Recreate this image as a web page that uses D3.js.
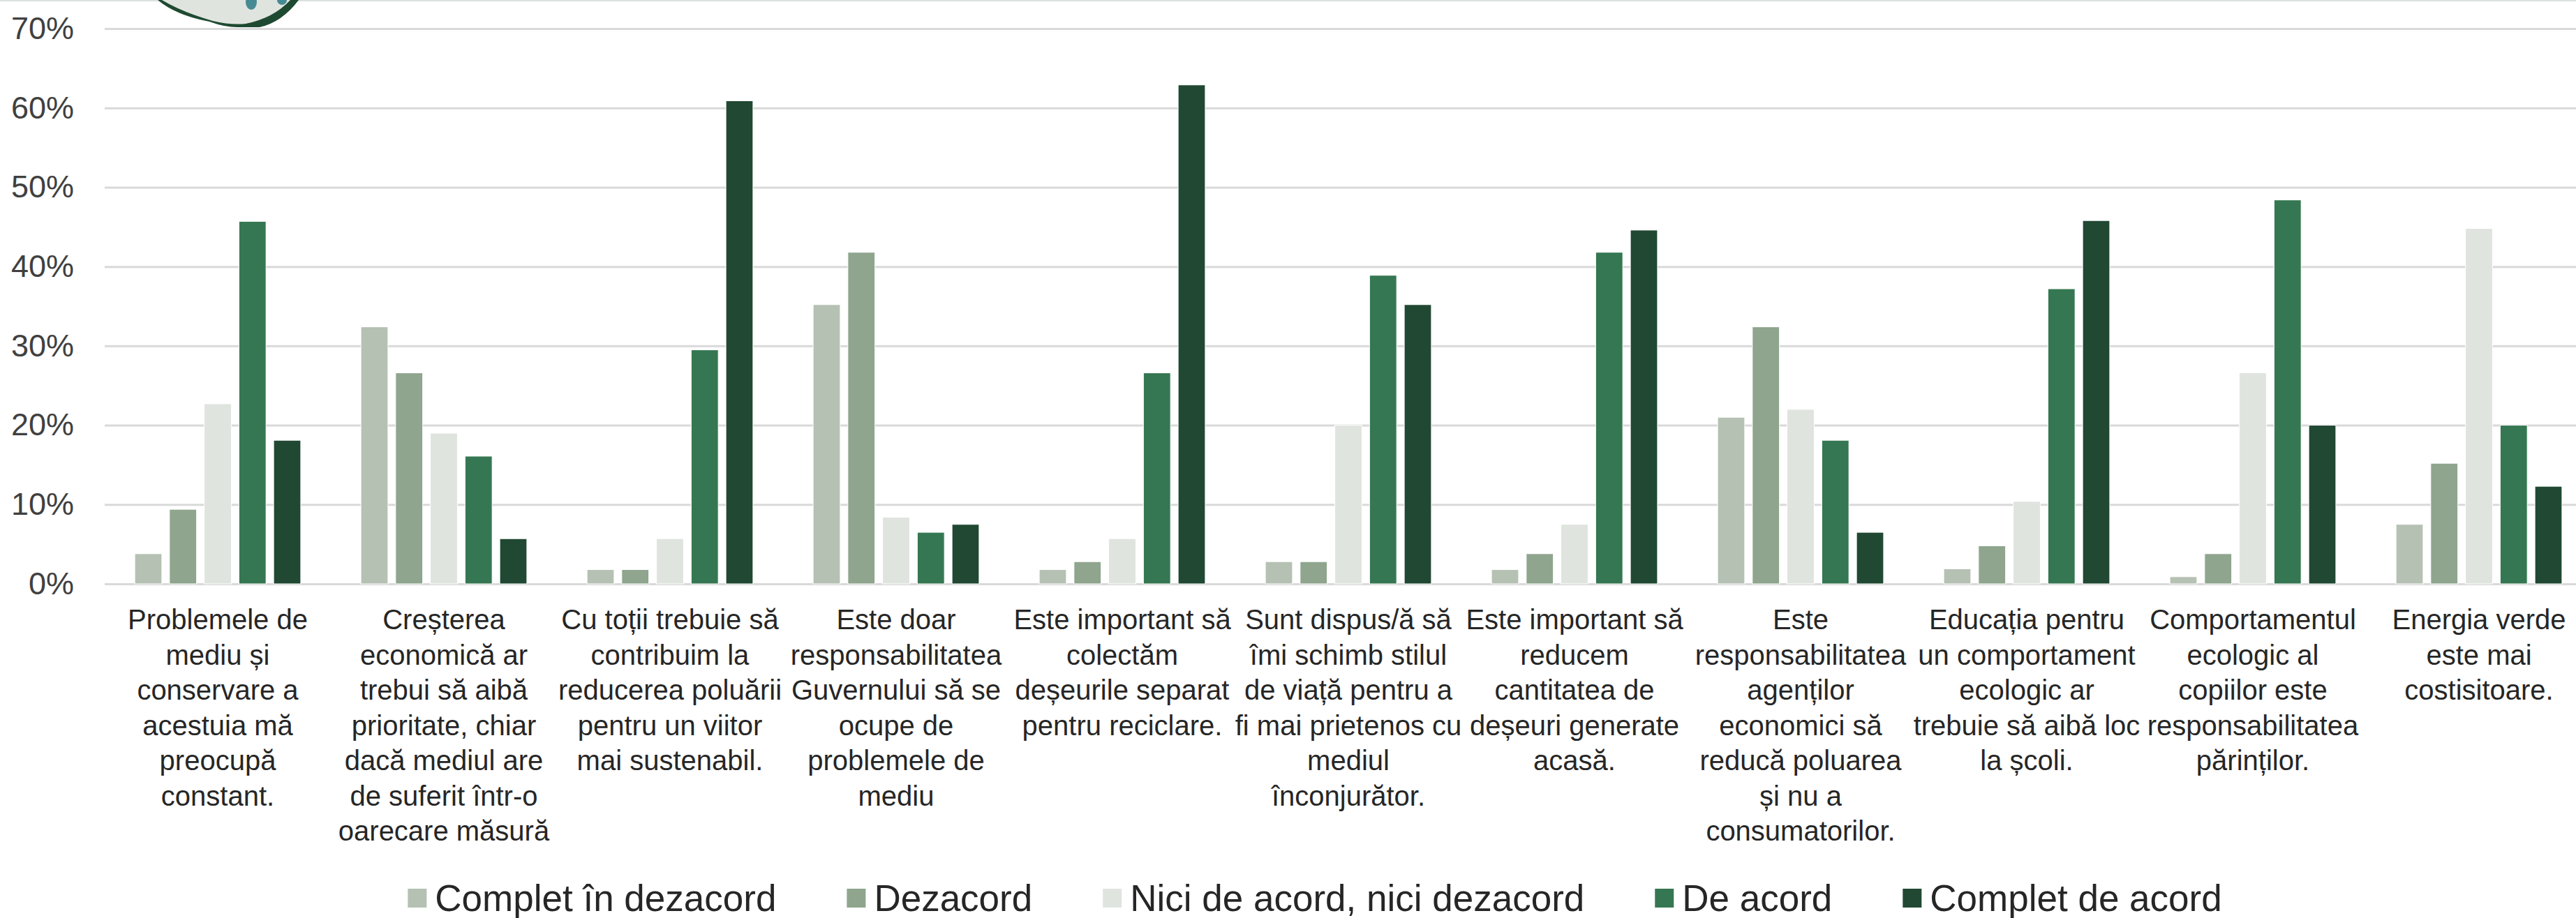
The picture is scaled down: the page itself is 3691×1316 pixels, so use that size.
<!DOCTYPE html>
<html>
<head>
<meta charset="utf-8">
<script src="https://cdn.jsdelivr.net/npm/d3@7"></script>
<style>
    body { margin: 0; background: #fff; }
    text { font-family: "Liberation Sans", Arial, sans-serif; }
</style>
</head>
<body>
<div id="Chart"></div>
<script>
// categories (line breaks as in the original)
var categories = [
    ["Problemele de", "mediu și", "conservare a", "acestuia mă", "preocupă", "constant."],
    ["Creșterea", "economică ar", "trebui să aibă", "prioritate, chiar", "dacă mediul are", "de suferit într-o", "oarecare măsură"],
    ["Cu toții trebuie să", "contribuim la", "reducerea poluării", "pentru un viitor", "mai sustenabil."],
    ["Este doar", "responsabilitatea", "Guvernului să se", "ocupe de", "problemele de", "mediu"],
    ["Este important să", "colectăm", "deșeurile separat", "pentru reciclare."],
    ["Sunt dispus/ă să", "îmi schimb stilul", "de viață pentru a", "fi mai prietenos cu", "mediul", "înconjurător."],
    ["Este important să", "reducem", "cantitatea de", "deșeuri generate", "acasă."],
    ["Este", "responsabilitatea", "agenților", "economici să", "reducă poluarea", "și nu a", "consumatorilor."],
    ["Educația pentru", "un comportament", "ecologic ar", "trebuie să aibă loc", "la școli."],
    ["Comportamentul", "ecologic al", "copiilor este", "responsabilitatea", "părinților."],
    ["Energia verde", "este mai", "costisitoare."]
];

var seriesNames = ["Complet în dezacord", "Dezacord", "Nici de acord, nici dezacord", "De acord", "Complet de acord"];
var seriesColors = ["#b5c1b3", "#8fa58e", "#dfe4df", "#357752", "#204832"];

// percentages per category
var completDezacord = [3.8, 32.4, 1.8, 35.2, 1.8, 2.8, 1.8, 21.0, 1.9, 0.9, 7.5];
var dezacord        = [9.4, 26.6, 1.8, 41.8, 2.8, 2.8, 3.8, 32.4, 4.8, 3.8, 15.2];
var niciNici        = [22.7, 19.0, 5.7, 8.4, 5.7, 20.0, 7.5, 22.0, 10.4, 26.6, 44.8];
var deAcord         = [45.7, 16.1, 29.5, 6.5, 26.6, 38.9, 41.8, 18.1, 37.2, 48.4, 20.0];
var completAcord    = [18.1, 5.7, 60.9, 7.5, 62.9, 35.2, 44.6, 6.5, 45.8, 20.0, 12.3];

var yTicks = [0, 0.1, 0.2, 0.3, 0.4, 0.5, 0.6, 0.7];

var allSeries = [completDezacord, dezacord, niciNici, deAcord, completAcord];

var W = 3691, H = 1316;
var plotLeft = 150, plotRight = 3714, plotTop = 41, plotBottom = 837;

var svg = d3.select("#Chart").append("svg")
    .attr("width", W)
    .attr("height", H);

var x0 = d3.scaleBand()
    .domain(d3.range(categories.length))
    .range([plotLeft, plotRight])
    .paddingInner(0)
    .paddingOuter(0);

var x1 = d3.scaleBand()
    .domain(d3.range(seriesNames.length))
    .range([x0.bandwidth() * 0.133, x0.bandwidth() * 0.867])
    .paddingInner(0.22);

var y = d3.scaleLinear()
    .domain([0, 0.7])
    .range([plotBottom, plotTop]);

// thin border at the very top
svg.append("line")
    .attr("x1", 0).attr("x2", W)
    .attr("y1", 1).attr("y2", 1)
    .attr("stroke", "#dce2df")
    .attr("stroke-width", 2);

// logo fragment peeking in at the top
var logo = svg.append("g");
logo.append("path")
    .attr("d", "M226,0 Q252,22 300,31 Q322,39 340,39 L372,39 Q404,32 428,0 Z")
    .attr("fill", "#1f4a32");
logo.append("path")
    .attr("d", "M232,0 Q262,18 305,30 Q330,36 352,34 Q392,26 416,0 Z")
    .attr("fill", "#e0e4df");
logo.append("ellipse")
    .attr("cx", 360).attr("cy", 3).attr("rx", 8).attr("ry", 11)
    .attr("fill", "#468b94");
logo.append("ellipse")
    .attr("cx", 404).attr("cy", 0).attr("rx", 7).attr("ry", 7)
    .attr("fill", "#468b94");

// y axis + gridlines
var yAxis = d3.axisLeft(y)
    .tickValues(yTicks)
    .tickFormat(d3.format(".0%"))
    .tickSize(-(W - plotLeft))
    .tickPadding(44);

var gY = svg.append("g")
    .attr("transform", "translate(" + plotLeft + ",0)")
    .call(yAxis);
gY.select(".domain").remove();
gY.selectAll(".tick line")
    .attr("stroke", "#d9d9d9")
    .attr("stroke-width", 3);
gY.selectAll(".tick text")
    .attr("fill", "#404040")
    .style("font-size", "45px")
    .style("font-family", "'Liberation Sans', Arial, sans-serif");

// bars
var groups = svg.append("g").selectAll("g")
    .data(categories)
    .join("g")
    .attr("transform", function (d, i) { return "translate(" + x0(i) + ",0)"; });

groups.selectAll("rect")
    .data(function (d, i) {
        return allSeries.map(function (s, k) { return { k: k, v: s[i] / 100 }; });
    })
    .join("rect")
    .attr("x", function (d) { return x1(d.k); })
    .attr("width", x1.bandwidth())
    .attr("y", function (d) { return y(d.v); })
    .attr("height", function (d) { return plotBottom - y(d.v); })
    .attr("fill", function (d) { return seriesColors[d.k]; })
    .attr("stroke", "#ffffff")
    .attr("stroke-width", 1);

// category labels
var lineH = 50.5;
svg.append("g").selectAll("text")
    .data(categories)
    .join("text")
    .attr("text-anchor", "middle")
    .attr("fill", "#262626")
    .style("font-size", "40px")
    .each(function (lines, i) {
        var t = d3.select(this);
        var cx = x0(i) + x0.bandwidth() / 2;
        lines.forEach(function (l, j) {
            t.append("tspan")
                .attr("x", cx)
                .attr("y", 888 + j * lineH)
                .attr("dy", "0.35em")
                .text(l);
        });
    });

// legend
var legendGap = 101;
var legend = svg.append("g");
var items = legend.selectAll("g")
    .data(seriesNames)
    .join("g");
items.append("rect")
    .attr("width", 27)
    .attr("height", 27)
    .attr("y", -13)
    .attr("fill", function (d, i) { return seriesColors[i]; });
items.append("text")
    .attr("x", 39)
    .attr("dy", "0.35em")
    .attr("fill", "#262626")
    .style("font-size", "53px")
    .text(function (d) { return d; });

var xPos = 0;
items.each(function () {
    var g = d3.select(this);
    g.attr("transform", "translate(" + xPos + ",0)");
    xPos += 39 + g.select("text").node().getComputedTextLength() + legendGap;
});
var legendW = xPos - legendGap;
legend.attr("transform", "translate(" + (1884 - legendW / 2) + ",1287)");
</script>
</body>
</html>
